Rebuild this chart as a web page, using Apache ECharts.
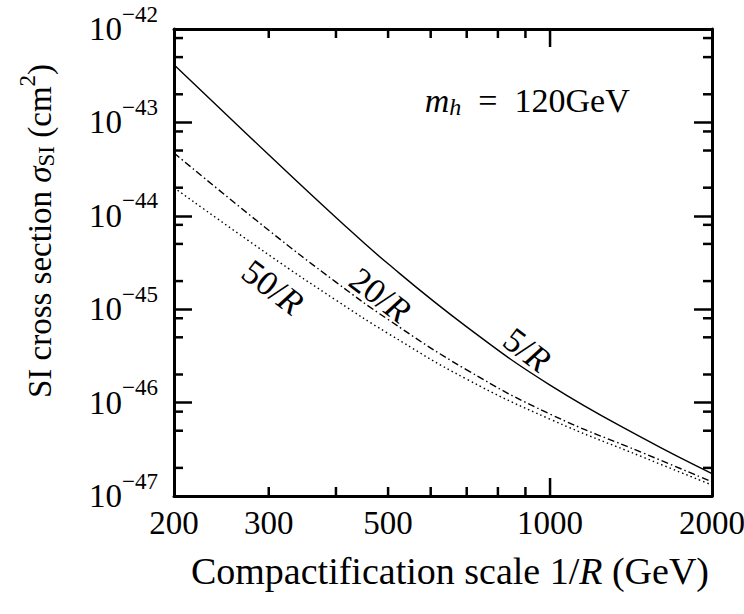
<!DOCTYPE html>
<html>
<head>
<meta charset="utf-8">
<script src="https://cdn.jsdelivr.net/npm/echarts@6/dist/echarts.min.js"></script>
<style>
  html, body { margin: 0; padding: 0; background: #fff; }
  #chart { width: 744px; height: 614px; }
</style>
</head>
<body>
<div id="chart"></div>
<script>
// compactification scale 1/R (GeV)
const energy = [200, 300, 400, 500, 700, 1000, 1500, 2000];
// SI cross section (cm^2)
const sigma5  = [4.14e-43, 4.50e-44, 9.60e-45, 3.06e-45, 6.47e-46, 1.54e-46, 4.06e-47, 1.74e-47];
const sigma20 = [4.70e-44, 7.00e-45, 1.95e-45, 7.76e-46, 2.24e-46, 7.53e-47, 2.84e-47, 1.42e-47];
const sigma50 = [2.00e-44, 3.82e-45, 1.25e-45, 5.50e-46, 1.78e-46, 6.64e-47, 2.56e-47, 1.31e-47];

// axis ticks and labels
const xLabels = [200, 300, 500, 1000, 2000];
const xMajorTicks = [1000];
const xMinorTicks = [300, 400, 500, 600, 700, 800, 900];
const yMinorMantissa = [2, 5, 8];
const yDecades = [-47, -46, -45, -44, -43, -42];

// curve annotations (data coords)
const curveLabels = [
  { text: '5', x: 906, y: 3.66e-46 },
  { text: '20', x: 483, y: 1.41e-45 },
  { text: '50', x: 305, y: 1.71e-45 }
];
const massLabel = { x: 585, y: 1.7e-43 };

// y values are plotted in units of 1e-47 cm^2 so the log axis keeps precision
const UNIT_EXP = 47;
const toUnit = v => v * Math.pow(10, UNIT_EXP);
const X_MIN = 200, X_MAX = 2000;
const Y_MIN = Math.pow(10, yDecades[0] + UNIT_EXP);
const Y_MAX = Math.pow(10, yDecades[yDecades.length - 1] + UNIT_EXP);

const SERIF = '"Liberation Serif", "DejaVu Serif", serif';
const FS = 33, FS_SMALL = 23;

var chart = echarts.init(document.getElementById('chart'), null, { renderer: 'svg' });

function line(x1, y1, x2, y2) {
  return { type: 'line', shape: { x1: x1, y1: y1, x2: x2, y2: y2 }, style: { stroke: '#000', lineWidth: 2.5 } };
}

let yMinor = [];
yDecades.slice(0, -1).forEach(function (e) {
  yMinorMantissa.forEach(function (m) {
    yMinor.push([X_MIN, m * Math.pow(10, e + UNIT_EXP)]);
  });
});

const xTickData = xMinorTicks.map(v => [v, Y_MIN, 0]).concat(xMajorTicks.map(v => [v, Y_MIN, 1]));

const baseXAxis = {
  type: 'log', logBase: 10, min: X_MIN, max: X_MAX,
  axisLine: { onZero: false, lineStyle: { color: '#000', width: 3 } },
  axisTick: { show: false }, axisLabel: { show: false }, splitLine: { show: false }
};
const baseYAxis = {
  type: 'log', logBase: 10, min: Y_MIN, max: Y_MAX,
  axisLine: { onZero: false, lineStyle: { color: '#000', width: 3 } },
  axisTick: { inside: true, length: 18, lineStyle: { color: '#000', width: 2.5 } },
  splitLine: { show: false }
};

function curve(values, dash) {
  return {
    type: 'line',
    data: energy.map((e, i) => [e, toUnit(values[i])]),
    showSymbol: false, smooth: 0.45, silent: true,
    lineStyle: { color: '#000', width: 1.4, type: dash, cap: 'butt' }
  };
}

let option = {
  animation: false,
  backgroundColor: '#fff',
  grid: { left: 174, right: 32, top: 29, bottom: 118 },
  xAxis: [
    Object.assign({}, baseXAxis, { position: 'bottom' }),
    Object.assign({}, baseXAxis, { position: 'top' })
  ],
  yAxis: [
    Object.assign({}, baseYAxis, {
      position: 'left',
      axisLabel: {
        margin: 16, color: '#000', fontFamily: SERIF, fontSize: FS,
        formatter: function (v) {
          const e = Math.round(Math.log10(v)) - UNIT_EXP;
          return '{b|10}{s|\u2212' + Math.abs(e) + '}';
        },
        rich: {
          b: { fontFamily: SERIF, fontSize: FS, color: '#000' },
          s: { fontFamily: SERIF, fontSize: FS_SMALL, color: '#000', padding: [0, 0, 30, 0] }
        }
      }
    }),
    Object.assign({}, baseYAxis, { position: 'right', axisLabel: { show: false } })
  ],
  series: [
    curve(sigma5, 'solid'),
    curve(sigma20, [7, 3, 1.5, 3]),
    curve(sigma50, [1.5, 3]),
    {
      type: 'custom', coordinateSystem: 'cartesian2d', silent: true, clip: false, z: 5,
      data: xTickData,
      renderItem: function (params, api) {
        const v = api.value(0);
        const len = api.value(2) ? 18 : 9;
        const b = api.coord([v, Y_MIN]);
        const t = api.coord([v, Y_MAX]);
        return { type: 'group', children: [line(b[0], b[1], b[0], b[1] - len), line(t[0], t[1], t[0], t[1] + len)] };
      }
    },
    {
      type: 'custom', coordinateSystem: 'cartesian2d', silent: true, clip: false, z: 5,
      data: yMinor,
      renderItem: function (params, api) {
        const v = api.value(1);
        const l = api.coord([X_MIN, v]);
        const r = api.coord([X_MAX, v]);
        return { type: 'group', children: [line(l[0], l[1], l[0] + 9, l[1]), line(r[0], r[1], r[0] - 9, r[1])] };
      }
    },
    {
      type: 'custom', coordinateSystem: 'cartesian2d', silent: true, clip: false, z: 5,
      data: xLabels.map(v => [v, Y_MIN]),
      renderItem: function (params, api) {
        const p = api.coord([api.value(0), Y_MIN]);
        return {
          type: 'text', x: p[0], y: p[1] + 27,
          style: { text: String(api.value(0)), fill: '#000', fontFamily: SERIF, fontSize: FS, align: 'center', verticalAlign: 'middle' }
        };
      }
    }
  ]
};

chart.setOption(option);

function richStyles(fs, fsSmall) {
  return {
    n: { fontFamily: SERIF, fontSize: fs, color: '#000' },
    i: { fontFamily: SERIF, fontSize: fs, fontStyle: 'italic', color: '#000' },
    sub: { fontFamily: SERIF, fontSize: fsSmall, color: '#000', padding: [12, 0, 0, 0] },
    subi: { fontFamily: SERIF, fontSize: fsSmall, fontStyle: 'italic', color: '#000', padding: [12, 0, 0, 0] },
    sup: { fontFamily: SERIF, fontSize: fsSmall, color: '#000', padding: [0, 0, 26, 0] }
  };
}

function textEl(x, y, text, opts) {
  opts = opts || {};
  const fs = opts.fontSize || FS;
  return {
    type: 'text', x: x, y: y, rotation: opts.rotation || 0, silent: true,
    style: {
      text: text, rich: richStyles(fs, Math.round(fs * 0.7)), align: opts.align || 'center', verticalAlign: 'middle',
      fontFamily: SERIF, fontSize: fs, fill: '#000'
    }
  };
}

const grid = { xAxisIndex: 0, yAxisIndex: 0 };
let graphics = [
  textEl(40, 231, '{n|SI cross section }{i|\u03c3}{sub|SI}{n| (cm}{sup|2}{n|)}', { rotation: Math.PI / 2 }),
  textEl(450, 571, '{n|Compactification scale 1/}{i|R}{n| (GeV)}', { fontSize: 38 })
];
const mp = chart.convertToPixel(grid, [massLabel.x, toUnit(massLabel.y)]);
graphics.push(textEl(mp[0], mp[1], '{i|m}{subi|h}{n|  =  120GeV}', { align: 'left', fontSize: 34 }));
curveLabels.forEach(function (c) {
  const p = chart.convertToPixel(grid, [c.x, toUnit(c.y)]);
  graphics.push(textEl(p[0], p[1], '{n|' + c.text + '/}{i|R}', { rotation: -0.65, fontSize: 35 }));
});
chart.setOption({ graphic: graphics });
</script>
</body>
</html>
